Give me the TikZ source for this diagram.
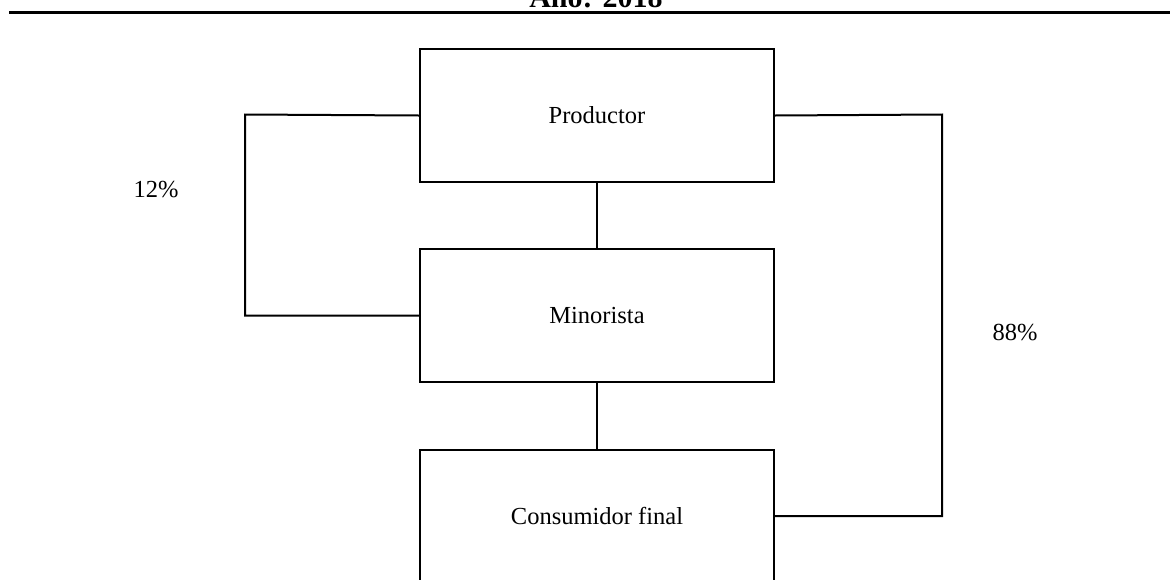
\documentclass[tikz,border=0pt]{standalone}
\usepackage{fontspec}
\setmainfont{Liberation Serif}
\begin{document}
\begin{tikzpicture}[x=1pt,y=-1pt,
  box/.style={draw,line width=2pt,minimum width=354pt,minimum height=133pt,inner sep=0pt,anchor=north west},
  conn/.style={line width=2pt},
  lbl/.style={font=\fontsize{24.5}{27}\selectfont,inner sep=0pt}]
\useasboundingbox (0,0) rectangle (1170,579);
\node[anchor=base,inner sep=0pt,font=\fontsize{30}{32}\selectfont\bfseries] (title) at (596,7) {Año: 2018};
\coordinate (rl) at (9,12);
\coordinate (rr) at (1170,12);
\draw[line width=3pt] (rl) -- (rr);
\node[box] (prod) at (419,48) {};
\node[lbl] at (prod.center) {Productor};
\node[box] (mino) at (419,248) {};
\node[lbl] at (mino.center) {Minorista};
\node[box,minimum height=200pt] (cons) at (419,449) {};
\node[lbl] at ([yshift=-67pt]cons.north) {Consumidor final};
\draw[conn] (prod.south) -- (mino.north);
\draw[conn] (mino.south) -- (cons.north);
\coordinate (cr) at ([yshift=-67pt]cons.north east);
\draw[conn] (prod.west) -- (245,114.5) |- (mino.west);
\draw[conn] (prod.east) -- (942,114.5) |- (cr);
\node[lbl] (p12) at (156,190) {12\%};
\node[lbl] (p88) at (1015,333) {88\%};
\end{tikzpicture}
\end{document}
